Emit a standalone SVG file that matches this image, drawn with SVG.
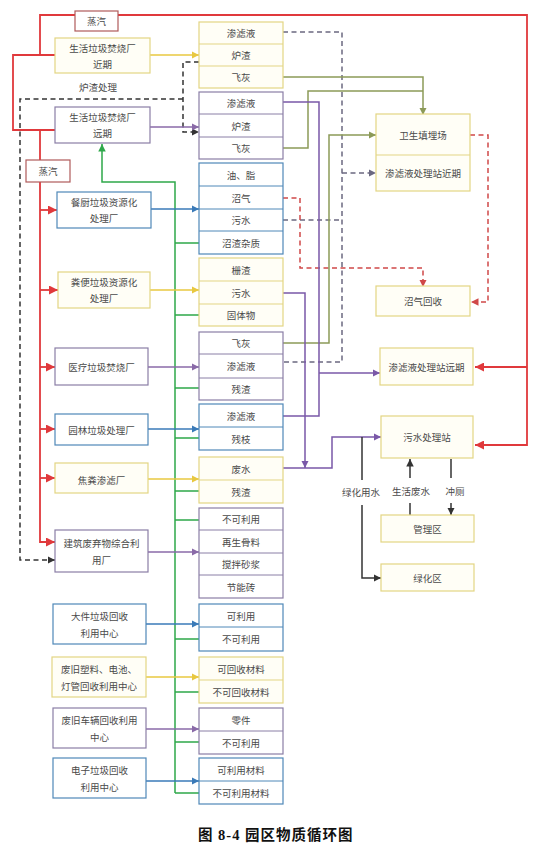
<svg xmlns="http://www.w3.org/2000/svg" width="552" height="844" viewBox="0 0 552 844">
<defs>
<style>
text{font-family:"Noto Sans CJK SC","Noto Sans",sans-serif;font-size:9.5px;fill:#4a4a4a;text-anchor:middle;dominant-baseline:central}
.box{fill:#fff;stroke-width:1.2}
.y{stroke:#e3d584;fill:#fffef6}
.p{stroke:#8a7ea6}
.b{stroke:#4f88b8}
.r{stroke:#b05a5a}
.dv{stroke-width:1}
.dy{stroke:#e3d584}.dp{stroke:#8a7ea6}.db{stroke:#4f88b8}
.ln{fill:none;stroke-width:1.5}
.red{stroke:#e0393c;stroke-width:1.8}
.grn{stroke:#2ea84a}
.olv{stroke:#8c9a58}
.pur{stroke:#7a58a8}
.blk{stroke:#333}
.ay{stroke:#e8c840}.ap{stroke:#8a6aa8}.ab{stroke:#3a7ab8}
.dash{stroke-dasharray:5 3.5}
.bd{stroke:#333}
.gd{stroke:#6b6880}
.rd{stroke:#d04848}
.cap{font-family:"Liberation Serif","Noto Sans CJK SC",serif;font-weight:bold;font-size:14.5px;fill:#111;text-anchor:start;letter-spacing:1px}
</style>
<marker id="mr" viewBox="0 0 10 10" refX="10" refY="5" markerWidth="5" markerHeight="5" orient="auto"><path d="M0,0L10,5L0,10z" fill="#e0393c"/></marker>
<marker id="mrd" viewBox="0 0 10 10" refX="10" refY="5" markerWidth="5" markerHeight="5" orient="auto"><path d="M0,0L10,5L0,10z" fill="#d04848"/></marker>
<marker id="mg" viewBox="0 0 10 10" refX="10" refY="5" markerWidth="5" markerHeight="5" orient="auto"><path d="M0,0L10,5L0,10z" fill="#2ea84a"/></marker>
<marker id="mo" viewBox="0 0 10 10" refX="10" refY="5" markerWidth="5" markerHeight="5" orient="auto"><path d="M0,0L10,5L0,10z" fill="#8c9a58"/></marker>
<marker id="mp" viewBox="0 0 10 10" refX="10" refY="5" markerWidth="5" markerHeight="5" orient="auto"><path d="M0,0L10,5L0,10z" fill="#7a58a8"/></marker>
<marker id="mk" viewBox="0 0 10 10" refX="10" refY="5" markerWidth="5" markerHeight="5" orient="auto"><path d="M0,0L10,5L0,10z" fill="#333"/></marker>
<marker id="mgd" viewBox="0 0 10 10" refX="10" refY="5" markerWidth="5" markerHeight="5" orient="auto"><path d="M0,0L10,5L0,10z" fill="#6b6880"/></marker>
<marker id="my" viewBox="0 0 10 10" refX="10" refY="5" markerWidth="5" markerHeight="5" orient="auto"><path d="M0,0L10,5L0,10z" fill="#e8c840"/></marker>
<marker id="mpp" viewBox="0 0 10 10" refX="10" refY="5" markerWidth="5" markerHeight="5" orient="auto"><path d="M0,0L10,5L0,10z" fill="#8a6aa8"/></marker>
<marker id="mb" viewBox="0 0 10 10" refX="10" refY="5" markerWidth="5" markerHeight="5" orient="auto"><path d="M0,0L10,5L0,10z" fill="#3a7ab8"/></marker>
</defs>
<rect width="552" height="844" fill="#fff"/>

<g id="connectors">
<path class="ln red" d="M40,55 V15 H527 V445 H475" marker-end="url(#mr)"/>
<path class="ln red" d="M527,367 H475" marker-end="url(#mr)"/>
<path class="ln red" d="M55,55 H13 V130 H55"/>
<path class="ln red" d="M40,130 V162"/>
<path class="ln red" d="M40,182 V542 H55" marker-end="url(#mr)"/>
<path class="ln red" d="M40,210 H57" marker-end="url(#mr)"/>
<path class="ln red" d="M40,290 H58" marker-end="url(#mr)"/>
<path class="ln red" d="M40,367 H55" marker-end="url(#mr)"/>
<path class="ln red" d="M40,429 H55" marker-end="url(#mr)"/>
<path class="ln red" d="M40,478 H55" marker-end="url(#mr)"/>
<path class="ln bd dash" d="M199,62 H183 V132 H199" marker-end="url(#mk)"/>
<path class="ln bd dash" d="M183,99 H20 V560 H55" marker-end="url(#mk)"/>
<path class="ln gd dash" d="M283,32 H342 V362 H283"/>
<path class="ln gd dash" d="M283,220 H342"/>
<path class="ln gd dash" d="M342,173 H376" marker-end="url(#mgd)"/>
<path class="ln rd dash" d="M283,198 H300 V268 H423 V287" marker-end="url(#mrd)"/>
<path class="ln rd dash" d="M470,135 H488 V302 H471" marker-end="url(#mrd)"/>
<path class="ln olv" d="M283,77 H423 V115" marker-end="url(#mo)"/>
<path class="ln olv" d="M283,148 H308 V91 H423"/>
<path class="ln olv" d="M283,343 H329 V135 H376" marker-end="url(#mo)"/>
<path class="ln pur" d="M283,102 H319 V416 H283"/>
<path class="ln pur" d="M319,373 H380" marker-end="url(#mp)"/>
<path class="ln pur" d="M283,293 H305 V468" marker-end="url(#mp)"/>
<path class="ln pur" d="M283,468 H332 V437 H381" marker-end="url(#mp)"/>
<path class="ln blk" d="M362,437 V480"/>
<path class="ln blk" d="M362,505 V578 H381" marker-end="url(#mk)"/>
<path class="ln blk" d="M410,478 V459" marker-end="url(#mk)"/>
<path class="ln blk" d="M410,503 V515"/>
<path class="ln blk" d="M451,459 V478"/>
<path class="ln blk" d="M451,503 V515" marker-end="url(#mk)"/>
<path class="ln grn" d="M175,793 V182 H102 V144" marker-end="url(#mg)"/>
<path class="ln grn" d="M175,243 H199 M175,315 H199 M175,388 H199 M175,438 H199 M175,491 H199 M175,520 H199 M175,639 H199 M175,692 H199 M175,742 H199 M175,793 H199"/>
<path class="ln ay" d="M150,55 H199" marker-end="url(#my)"/>
<path class="ln ap" d="M150,127 H199" marker-end="url(#mpp)"/>
<path class="ln ab" d="M151,209 H199" marker-end="url(#mb)"/>
<path class="ln ay" d="M150,290 H199" marker-end="url(#my)"/>
<path class="ln ap" d="M148,367 H199" marker-end="url(#mpp)"/>
<path class="ln ab" d="M148,429 H199" marker-end="url(#mb)"/>
<path class="ln ay" d="M148,479 H199" marker-end="url(#my)"/>
<path class="ln ap" d="M148,552 H199" marker-end="url(#mpp)"/>
<path class="ln ab" d="M146,624 H199" marker-end="url(#mb)"/>
<path class="ln ay" d="M146,677 H199" marker-end="url(#my)"/>
<path class="ln ap" d="M146,729 H199" marker-end="url(#mpp)"/>
<path class="ln ab" d="M146,781 H199" marker-end="url(#mb)"/>
</g>

<g id="label-slag"><text x="98" y="87">炉渣处理</text></g>
<g id="label-green-water"><text x="361" y="492">绿化用水</text></g>
<g id="label-domestic"><text x="411" y="491">生活废水</text></g>
<g id="label-flush"><text x="455" y="491">冲厕</text></g>

<g id="steam1"><rect class="box r" x="75" y="11" width="43" height="20"/><text x="96.5" y="21">蒸汽</text></g>
<g id="steam2"><rect class="box r" x="26" y="160" width="44" height="22"/><text x="48" y="171">蒸汽</text></g>

<g id="plant-inc-near"><rect class="box y" x="55" y="38" width="95" height="35"/><text x="102.5" y="48">生活垃圾焚烧厂</text><text x="102.5" y="64">近期</text></g>
<g id="plant-inc-far"><rect class="box p" x="55" y="107" width="95" height="36"/><text x="102.5" y="117">生活垃圾焚烧厂</text><text x="102.5" y="133">远期</text></g>
<g id="plant-kitchen"><rect class="box b" x="57" y="192" width="94" height="36"/><text x="104" y="202">餐厨垃圾资源化</text><text x="104" y="218">处理厂</text></g>
<g id="plant-feces"><rect class="box y" x="58" y="272" width="92" height="36"/><text x="104" y="282">粪便垃圾资源化</text><text x="104" y="298">处理厂</text></g>
<g id="plant-medical"><rect class="box p" x="55" y="348" width="93" height="37"/><text x="101.5" y="366.5">医疗垃圾焚烧厂</text></g>
<g id="plant-garden"><rect class="box b" x="55" y="414" width="93" height="31"/><text x="101.5" y="429.5">园林垃圾处理厂</text></g>
<g id="plant-7"><rect class="box y" x="55" y="463" width="93" height="30"/><text x="101.5" y="480">焦粪渗滤厂</text></g>
<g id="plant-construction"><rect class="box p" x="55" y="530" width="93" height="42"/><text x="101.5" y="543">建筑废弃物综合利</text><text x="101.5" y="560">用厂</text></g>
<g id="plant-bulky"><rect class="box b" x="53" y="604" width="93" height="40"/><text x="99.5" y="616">大件垃圾回收</text><text x="99.5" y="633">利用中心</text></g>
<g id="plant-plastic"><rect class="box y" x="52" y="657" width="94" height="40"/><text x="99" y="669">废旧塑料、电池、</text><text x="99" y="686">灯管回收利用中心</text></g>
<g id="plant-vehicle"><rect class="box p" x="53" y="708" width="93" height="40"/><text x="99.5" y="720">废旧车辆回收利用</text><text x="99.5" y="737">中心</text></g>
<g id="plant-ewaste"><rect class="box b" x="53" y="758" width="93" height="40"/><text x="99.5" y="770">电子垃圾回收</text><text x="99.5" y="787">利用中心</text></g>

<g id="out-inc-near"><rect class="box y" x="199" y="22" width="84" height="66"/><path class="dv dy" d="M199,44H283M199,66H283"/><text x="241" y="33">渗滤液</text><text x="241" y="55">炉渣</text><text x="241" y="77">飞灰</text></g>
<g id="out-inc-far"><rect class="box p" x="199" y="92" width="84" height="67"/><path class="dv dp" d="M199,114H283M199,137H283"/><text x="241" y="103">渗滤液</text><text x="241" y="125.5">炉渣</text><text x="241" y="148">飞灰</text></g>
<g id="out-kitchen"><rect class="box b" x="199" y="163" width="84" height="91"/><path class="dv db" d="M199,186H283M199,209H283M199,231H283"/><text x="241" y="174.5">油、脂</text><text x="241" y="197.5">沼气</text><text x="241" y="220">污水</text><text x="241" y="242.5">沼渣杂质</text></g>
<g id="out-feces"><rect class="box y" x="199" y="258" width="84" height="68"/><path class="dv dy" d="M199,281H283M199,304H283"/><text x="241" y="269.5">栅渣</text><text x="241" y="292.5">污水</text><text x="241" y="315">固体物</text></g>
<g id="out-medical"><rect class="box p" x="199" y="332" width="84" height="68"/><path class="dv dp" d="M199,354H283M199,378H283"/><text x="241" y="343">飞灰</text><text x="241" y="366">渗滤液</text><text x="241" y="389">残渣</text></g>
<g id="out-garden"><rect class="box b" x="199" y="404" width="84" height="46"/><path class="dv db" d="M199,427H283"/><text x="241" y="415.5">渗滤液</text><text x="241" y="438.5">残枝</text></g>
<g id="out-7"><rect class="box y" x="199" y="457" width="84" height="46"/><path class="dv dy" d="M199,480H283"/><text x="241" y="468.5">废水</text><text x="241" y="491.5">残渣</text></g>
<g id="out-construction"><rect class="box p" x="199" y="508" width="84" height="90"/><path class="dv dp" d="M199,530H283M199,553H283M199,575H283"/><text x="241" y="519">不可利用</text><text x="241" y="541.5">再生骨料</text><text x="241" y="564">搅拌砂浆</text><text x="241" y="586.5">节能砖</text></g>
<g id="out-bulky"><rect class="box b" x="199" y="604" width="84" height="47"/><path class="dv db" d="M199,627H283"/><text x="241" y="615.5">可利用</text><text x="241" y="639">不可利用</text></g>
<g id="out-plastic"><rect class="box y" x="199" y="657" width="84" height="46"/><path class="dv dy" d="M199,680H283"/><text x="241" y="668.5">可回收材料</text><text x="241" y="691.5">不可回收材料</text></g>
<g id="out-vehicle"><rect class="box p" x="199" y="708" width="84" height="46"/><path class="dv dp" d="M199,731H283"/><text x="241" y="719.5">零件</text><text x="241" y="742.5">不可利用</text></g>
<g id="out-ewaste"><rect class="box b" x="199" y="758" width="84" height="46"/><path class="dv db" d="M199,781H283"/><text x="241" y="769.5">可利用材料</text><text x="241" y="792.5">不可利用材料</text></g>

<g id="landfill"><rect class="box y" x="376" y="114" width="94" height="77"/><path class="dv dy" d="M376,155H470"/><text x="423" y="134.5">卫生填埋场</text><text x="423" y="173">渗滤液处理站近期</text></g>
<g id="biogas"><rect class="box y" x="376" y="286" width="94" height="30"/><text x="423" y="301">沼气回收</text></g>
<g id="leachate-far"><rect class="box y" x="380" y="348" width="93" height="37"/><text x="426.5" y="366.5">渗滤液处理站远期</text></g>
<g id="sewage"><rect class="box y" x="381" y="416" width="92" height="42"/><text x="427" y="437">污水处理站</text></g>
<g id="admin"><rect class="box y" x="381" y="515" width="93" height="27"/><text x="427.5" y="528.5">管理区</text></g>
<g id="greenzone"><rect class="box y" x="381" y="564" width="93" height="27"/><text x="427.5" y="577.5">绿化区</text></g>

<text class="cap" x="198" y="835">图 8-4  园区物质循环图</text>
</svg>
